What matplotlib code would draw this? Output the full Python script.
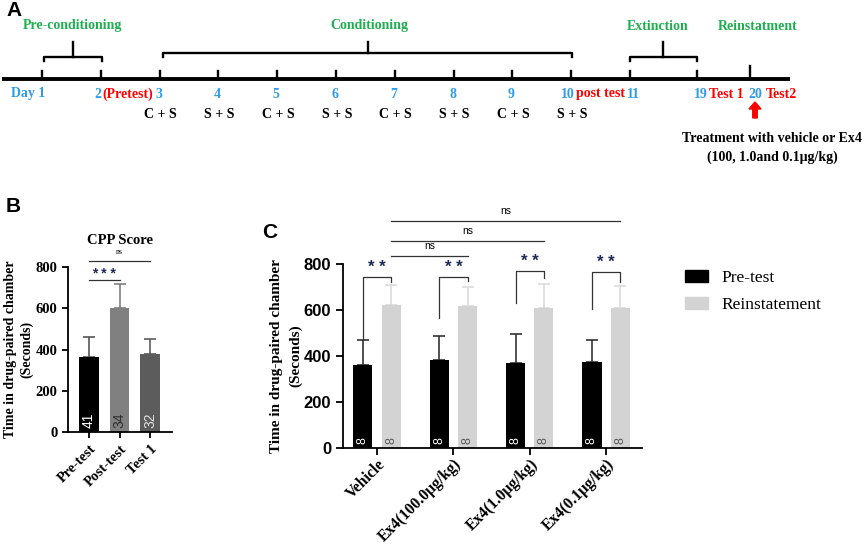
import matplotlib
matplotlib.use("Agg")
import matplotlib.pyplot as plt
from matplotlib.patches import Patch
import numpy as np

SERIF = "Liberation Serif"
SANS = "Liberation Sans"
GREEN = "#1fae4f"
BLUE = "#2f9ce8"
RED = "#ff0000"

# ---- panel A : timeline ----
day_labels = ["Day 1", "2", "3", "4", "5", "6", "7", "8", "9", "10", "11", "19", "20"]
day_slot = [0, 1, 2, 3, 4, 5, 6, 7, 8, 9, 10, 11.14, 12.04]
pairing = ["C + S", "S + S", "C + S", "S + S", "C + S", "S + S", "C + S", "S + S"]
phases = ["Pre-conditioning", "Conditioning", "Extinction", "Reinstatment"]

# ---- panel B : CPP score ----
cpp_groups = ["Pre-test", "Post-test", "Test 1"]
cpp_mean = [366, 600, 378]
cpp_err = [96, 118, 75]
cpp_n = ["41", "34", "32"]
cpp_colors = ["#000000", "#808080", "#5c5c5c"]
cpp_ncolors = ["white", "#303030", "#e0e0e0"]

# ---- panel C : reinstatement ----
treat = ["Vehicle", "Ex4(100.0μg/kg)", "Ex4(1.0μg/kg)", "Ex4(0.1μg/kg)"]
pre_mean = [362, 382, 370, 376]
pre_err = [108, 104, 124, 92]
rein_mean = [622, 618, 610, 610]
rein_err = [86, 82, 102, 96]
n_per_group = ["8", "8", "8", "8"]
sig_top = [743, 743, 770, 765]
sig_left = [470, 565, 630, 604]
sig_right = [722, 726, 739, 722]
ns_levels = [835, 900, 987]
ns_to = [1, 2, 3]

fig = plt.figure(figsize=(8.65, 5.48), dpi=100)

# overlay in pixel units for the timeline and panel letters
ov = fig.add_axes([0, 0, 1, 1])
ov.set_xlim(0, 865)
ov.set_ylim(548, 0)
ov.axis("off")

px = lambda s: 42 + 58.8 * s
xs = [px(s) for s in day_slot]

ov.plot([2, 790], [79, 79], color="black", lw=2.8, solid_capstyle="butt")
for i, x in enumerate(xs):
    top = 66 if i == len(xs) - 1 else 71
    ov.plot([x, x], [79, top], color="black", lw=1.7)

def bracket(x0, x1, y, xc):
    ov.plot([x0, x0, x1, x1], [y + 4, y, y, y + 4], color="black", lw=1.7)
    ov.plot([xc, xc], [y, 42], color="black", lw=1.7)

bracket(xs[0] + 2, xs[1] + 1, 57, 73)
bracket(xs[2] + 3, xs[9] + 1, 53, 368)
bracket(xs[10], xs[11], 57, 663)

phase_x = [72, 369, 658, 758]
for name, x in zip(phases, phase_x):
    ov.text(x, 26, name, color=GREEN, fontsize=10, fontweight="bold",
            family=SERIF, ha="center", va="center")

tb = dict(fontsize=10, fontweight="bold", family=SERIF, va="center")
ov.text(28, 94, day_labels[0], color=BLUE, ha="center", **tb)
ov.text(101, 94, day_labels[1], color=BLUE, ha="right", **tb)
ov.text(102, 94, "(Pretest)", color=RED, ha="left", **tb)
for i in range(2, 9):
    ov.text(xs[i] - 1, 94, day_labels[i], color=BLUE, ha="center", **tb)
ov.text(575, 94, day_labels[9], color=BLUE, ha="right", **tb)
ov.text(576, 94, "post test", color=RED, ha="left", **tb)
ov.text(627, 94, day_labels[10], color=BLUE, ha="left", **tb)
ov.text(708, 94, day_labels[11], color=BLUE, ha="right", **tb)
ov.text(709, 94, "Test 1", color=RED, ha="left", **tb)
ov.text(755, 94, day_labels[12], color=BLUE, ha="center", **tb)
ov.text(766, 94, "Test2", color=RED, ha="left", **tb)

for i, p in enumerate(pairing):
    ov.text(xs[i + 2] + 1, 115, p, color="black", ha="center", **tb)

ov.arrow(755, 118, 0, -16, width=4.5, head_width=12, head_length=7,
         color=RED, length_includes_head=True)
ov.text(772, 138, "Treatment with vehicle or Ex4", color="black",
        fontsize=10, fontweight="bold", family=SERIF, ha="center", va="center")
ov.text(772, 157, "(100, 1.0and 0.1μg/kg)", color="black",
        fontsize=10, fontweight="bold", family=SERIF, ha="center", va="center")

for lab, x, y in [("A", 14, 10), ("B", 13, 206), ("C", 270, 232)]:
    ov.text(x, y, lab, fontsize=15, fontweight="bold", family=SANS,
            ha="center", va="center")

# ---- panel B ----
axb = fig.add_axes([68 / 865, 1 - 432 / 548, 104 / 865, 165 / 548])
xb = np.arange(len(cpp_groups))
axb.bar(xb, cpp_mean, width=0.65, color=cpp_colors, zorder=2)
for i in range(len(xb)):
    axb.errorbar(xb[i], cpp_mean[i], yerr=[[0], [cpp_err[i]]], fmt="none",
                 ecolor="#555555" if i == 0 else cpp_colors[i],
                 elinewidth=1.2, capsize=4, capthick=1.2, zorder=1)
    axb.text(xb[i], 20, cpp_n[i], rotation=90, color=cpp_ncolors[i], fontsize=10,
             family=SANS, ha="center", va="bottom")
axb.set_xlim(-0.69, 2.72)
axb.set_ylim(0, 800)
axb.set_yticks([0, 200, 400, 600, 800])
axb.set_xticks(xb)
axb.set_xticklabels(cpp_groups, rotation=45, ha="right", rotation_mode="anchor",
                    fontsize=10.3, fontweight="bold", family=SERIF)
for t in axb.get_yticklabels():
    t.set_fontsize(10.5)
    t.set_fontweight("bold")
    t.set_family(SERIF)
axb.tick_params(axis="both", width=1.3, length=4)
for s in ["top", "right"]:
    axb.spines[s].set_visible(False)
for s in ["left", "bottom"]:
    axb.spines[s].set_linewidth(1.3)
axb.set_ylabel("Time in drug-paired chamber\n(Seconds)", fontsize=10,
               fontweight="bold", family=SERIF, labelpad=2, linespacing=1.2)
axb.plot([0, 1], [737, 737], color="#333333", lw=0.9, clip_on=False)
axb.text(0.5, 765, "* * *", color="#1f2a5a", fontsize=10, fontweight="bold",
         family=SANS, ha="center", va="center")
axb.plot([0, 2], [829, 829], color="#333333", lw=0.9, clip_on=False)
axb.text(1, 872, "ns", fontsize=5.5, family=SERIF, ha="center", va="center")
axb.text(1, 930, "CPP Score", fontsize=10.5, fontweight="bold", family=SERIF,
         ha="center", va="center")

# ---- panel C ----
axc = fig.add_axes([343 / 865, 1 - 448 / 548, 299 / 865, 184 / 548])
xc = np.arange(len(treat))
off = 0.185
w = 0.25
axc.bar(xc - off, pre_mean, width=w, color="black", label="Pre-test", zorder=2)
axc.bar(xc + off, rein_mean, width=w, color="#d3d3d3", label="Reinstatement", zorder=2)
axc.errorbar(xc - off, pre_mean, yerr=[np.zeros(4), pre_err], fmt="none",
             ecolor="#333333", elinewidth=1.2, capsize=4, capthick=1.2, zorder=1)
axc.errorbar(xc + off, rein_mean, yerr=[np.zeros(4), rein_err], fmt="none",
             ecolor="#dcdcdc", elinewidth=1.2, capsize=4, capthick=1.2, zorder=1)
for i in range(len(xc)):
    axc.text(xc[i] - off, 16, n_per_group[i], rotation=90, color="white",
             fontsize=9, family=SANS, ha="center", va="bottom", zorder=3)
    axc.text(xc[i] + off, 16, n_per_group[i], rotation=90, color="#5a5a5a",
             fontsize=9, family=SANS, ha="center", va="bottom", zorder=3)
    axc.plot([xc[i] - off, xc[i] - off, xc[i] + off, xc[i] + off],
             [sig_left[i], sig_top[i], sig_top[i], sig_right[i]],
             color="#333333", lw=0.9, clip_on=False)
    axc.text(xc[i], sig_top[i] + 40, "* *", color="#1f2a5a", fontsize=12,
             fontweight="bold", family=SANS, ha="center", va="center")
for lvl, j in zip(ns_levels, ns_to):
    axc.plot([xc[0] + off, xc[j] + off], [lvl, lvl], color="#333333", lw=0.9,
             clip_on=False)
    axc.text((xc[0] + xc[j]) / 2 + off, lvl + 42, "ns", fontsize=7.5,
             family=SANS, ha="center", va="center")
axc.set_xlim(-0.446, 3.47)
axc.set_ylim(0, 800)
axc.set_yticks([0, 200, 400, 600, 800])
axc.set_xticks(xc)
axc.set_xticklabels(treat, rotation=45, ha="right", rotation_mode="anchor",
                    fontsize=11.3, fontweight="bold", family=SERIF)
for t in axc.get_yticklabels():
    t.set_fontsize(12)
    t.set_fontweight("bold")
    t.set_family(SANS)
axc.tick_params(axis="both", width=1.3, length=5)
axc.tick_params(axis="x", pad=1)
for s in ["top", "right"]:
    axc.spines[s].set_visible(False)
for s in ["left", "bottom"]:
    axc.spines[s].set_linewidth(1.3)
axc.set_ylabel("Time in drug-paired chamber\n(Seconds)", fontsize=11,
               fontweight="bold", family=SERIF, labelpad=1, linespacing=1.6)
axc.legend(handles=[Patch(color="black", label="Pre-test"),
                    Patch(color="#d3d3d3", label="Reinstatement")],
           loc="upper left", bbox_to_anchor=(685 / 865, 1 - 270 / 548),
           bbox_transform=fig.transFigure, frameon=False, borderpad=0,
           borderaxespad=0,
           prop={"family": SERIF, "size": 12.5}, handlelength=1.3,
           handleheight=0.7, labelspacing=0.6, handletextpad=0.8)

fig.savefig("out.png", dpi=100)
